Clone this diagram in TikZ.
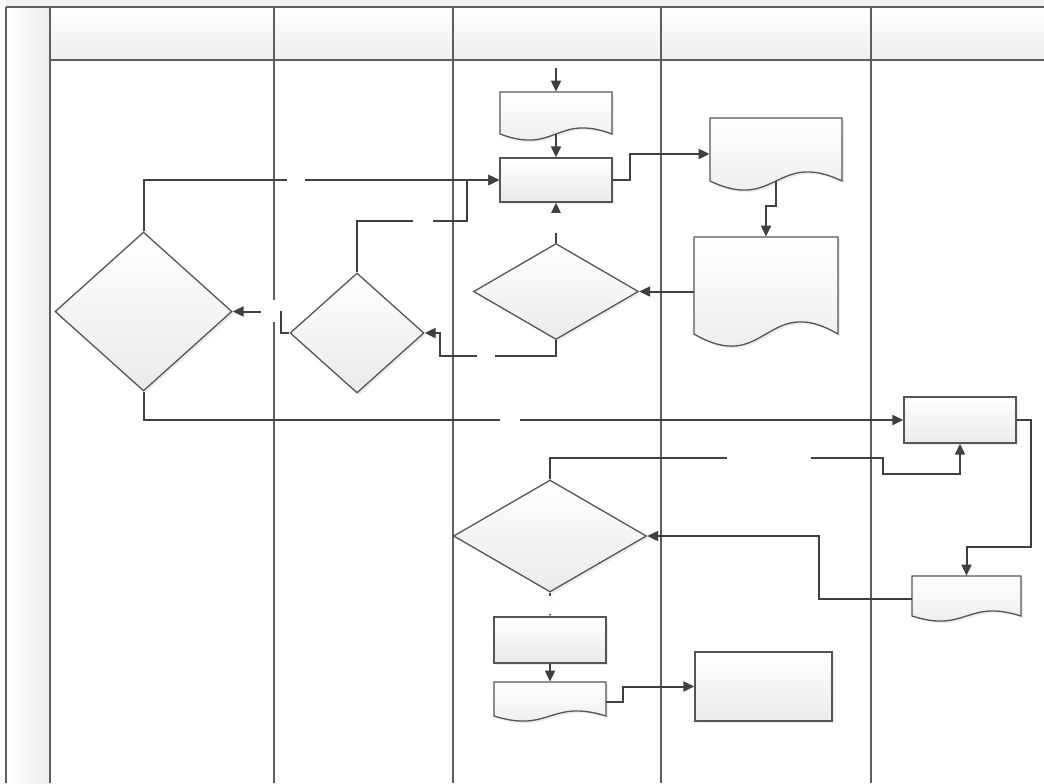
\documentclass[tikz,border=0pt]{standalone}
\usetikzlibrary{arrows.meta,shapes.geometric,shadows}
\definecolor{lanecol}{HTML}{5E5E5E}
\definecolor{shapeline}{HTML}{555555}
\definecolor{conncol}{HTML}{404040}
\definecolor{shadebot}{HTML}{EAEAEA}
\definecolor{headbot}{HTML}{EEEEEE}
\definecolor{topstrip}{HTML}{F0F0F0}
\tikzset{
  sz/.style 2 args={minimum width={(#1)*0.5pt}, minimum height={(#2)*0.5pt}},
  shapestyle/.style={draw=shapeline, line width=0.65pt, top color=white, bottom color=shadebot,
    drop shadow={shadow xshift=1.1pt, shadow yshift=-1.1pt, opacity=0.15}},
  procbox/.style={shapestyle, rectangle, inner sep=0pt},
  decision/.style={shapestyle, diamond, inner sep=0pt},
  conn/.style={draw=conncol, line width=1pt},
  arr/.style={conn, -{Triangle[length=5.5pt,width=5pt]}},
  gapbox/.style={fill=white, inner sep=0pt, draw=none},
  laneline/.style={draw=lanecol, line width=0.7pt},
}
\newcommand\docnode[6]{%
  \pgfmathsetmacro\dxm{(#2+#3)/2}%
  \pgfmathsetmacro\dk{3.5*#6}%
  \pgfmathsetmacro\dyc{(#4+#5+#6)/2}%
  \path[shapestyle] (#2,#4) -- (#3,#4) -- (#3,#5) .. controls (\dxm,#5-\dk) and (\dxm,#5+\dk) .. (#2,#5) -- cycle;%
  \node[inner sep=0pt, sz={#3-#2}{#5-#4+#6}] (#1) at (\dxm,\dyc) {};%
  \coordinate (#1-wave) at (\dxm,#5);%
}
\begin{document}
\begin{tikzpicture}[x=0.5pt,y=-0.5pt]
\useasboundingbox (0,0) rectangle (1044,783);
% pool background
\fill[topstrip] (6,0) rectangle (1044,7);
\shade[top color=white, bottom color=headbot] (50,7) rectangle (1044,60);
\shade[left color=white, right color=headbot] (6,7) rectangle (50,783);
\draw[laneline] (6,7) -- (1044,7);
\draw[laneline] (6,7) -- (6,783);
\draw[laneline] (50,60) -- (1044,60);
\foreach \lx in {50,274,453,661,871} {\draw[laneline] (\lx,7) -- (\lx,783);}
% process boxes
\node[procbox, sz={112}{44}] (rect1) at (556,180) {};
\node[procbox, sz={112}{46}] (rect2) at (960,420) {};
\node[procbox, sz={112}{46}] (rect3) at (550,640) {};
\node[procbox, sz={137}{69}] (rect4) at (763.5,686.5) {};
% decisions
\node[decision, sz={165}{96}] (d1) at (556,291.5) {};
\node[decision, sz={134}{120}] (d2) at (357,333) {};
\node[decision, sz={177}{159}] (d3) at (143.5,311.5) {};
\node[decision, sz={193}{112}] (d4) at (550,536) {};
% documents
\docnode{doc1}{500}{612}{92}{134}{6}
\docnode{doc2}{710}{842}{118}{181}{9}
\docnode{doc3}{694}{838}{237}{334}{12}
\docnode{doc4}{912}{1021}{576}{616}{5}
\docnode{doc5}{494}{606}{682}{716}{5}
% connectors
\coordinate (start) at (556,68);
\draw[arr] (start) -- (doc1.north);
\draw[arr] (doc1-wave) -- (rect1.north);
\draw[arr] (rect1.east) -- ++(17,0) |- (doc2.west);
\draw[arr] (doc2-wave) -- ++(0,25) -| (doc3.north);
\draw[arr] (doc3.west) -- (d1.east);
\draw[arr] (d1.north) -- (rect1.south);
\draw[arr] (d1.south) |- (440,356) |- (d2.east);
\draw[arr] (d2.north) |- (467,221) |- (rect1.west);
\draw[arr] (d3.north) |- (rect1.west);
\draw[arr] (d2.west) -- ++(-8,0) |- (d3.east);
\draw[arr] (d3.south) |- (rect2.west);
\draw[arr] (rect2.east) -- ++(14,0) -- ++(0,127) -| (doc4.north);
\draw[arr] (doc4.west) -| (819,536) -- (d4.east);
\draw[arr] (d4.north) |- (883,458) |- (960,474) -- (rect2.south);
\draw[arr] (d4.south) -- (rect3.north);
\draw[arr] (rect3.south) -- (doc5.north);
\draw[arr] (doc5.east) -- ++(17,0) |- (rect4.west);
% empty connector labels (white backgrounds)
\node[gapbox, sz={18}{10}] (lbl1) at (296,180) {};
\node[gapbox, sz={20}{10}] (lbl2) at (423,221) {};
\node[gapbox, sz={18}{10}] (lbl3) at (486,356) {};
\node[gapbox, sz={10}{20}] (lbl4) at (556,223) {};
\node[gapbox, sz={19}{22}] (lbl5) at (270.5,311) {};
\node[gapbox, sz={20}{10}] (lbl6) at (510,420) {};
\node[gapbox, sz={84}{10}] (lbl7) at (769,458) {};
\node[gapbox, sz={10}{18}] (lbl8) at (550,605) {};
\end{tikzpicture}
\end{document}
